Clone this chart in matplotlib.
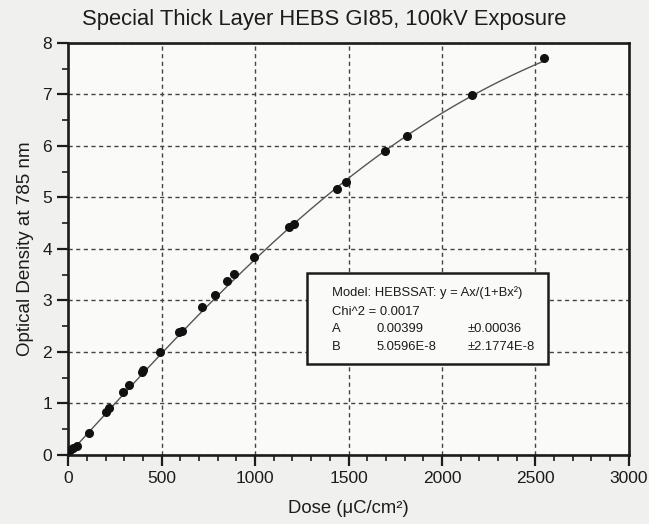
import numpy as np
import matplotlib
matplotlib.use("Agg")
import matplotlib.pyplot as plt
from matplotlib.ticker import MultipleLocator

plt.rcParams["font.family"] = ["Liberation Sans", "DejaVu Sans"]

# Measured points (dose, optical density)
dose = [10, 28, 50, 109, 201, 216, 296, 328, 394, 403, 492, 595, 608,
        718, 786, 848, 888, 995, 1182, 1207, 1441, 1489, 1695, 1813,
        2160, 2545]
od = [0.10, 0.13, 0.17, 0.43, 0.84, 0.91, 1.22, 1.35, 1.61, 1.64, 2.00,
      2.38, 2.41, 2.87, 3.11, 3.37, 3.51, 3.84, 4.43, 4.48, 5.17, 5.30,
      5.90, 6.19, 6.99, 7.70]

# Fit parameters from the box
fit_A = 0.00399
fit_B = 5.0596e-8
fit_labels = ["A", "B"]
fit_values = ["0.00399", "5.0596E-8"]
fit_errors = ["\u00b10.00036", "\u00b12.1774E-8"]

ink = "#1c1c1c"

fig = plt.figure(figsize=(6.49, 5.24), dpi=100, facecolor="#f0f0ee")
ax = fig.add_axes([0.105, 0.132, 0.864, 0.786])
ax.set_facecolor("#fafaf8")

# model curve y = Ax/(1+Bx^2)
xs = np.linspace(0, max(dose), 300)
ax.plot(xs, fit_A * xs / (1 + fit_B * xs ** 2), color="#555555", lw=1.0, zorder=2)
ax.plot(dose, od, "o", color="#111111", ms=5.5, zorder=3)

ax.set_xlim(0, 3000)
ax.set_ylim(0, 8)
ax.xaxis.set_major_locator(MultipleLocator(500))
ax.xaxis.set_minor_locator(MultipleLocator(100))
ax.yaxis.set_major_locator(MultipleLocator(1))
ax.yaxis.set_minor_locator(MultipleLocator(0.5))
ax.tick_params(which="major", direction="out", length=8, width=1.6,
               labelsize=12.5, colors=ink)
ax.tick_params(which="minor", direction="out", length=4, width=1.2,
               colors=ink)
ax.grid(True, which="major", color="#444444", ls=(0, (3, 2.5)), lw=1.0)
for s in ax.spines.values():
    s.set_linewidth(1.9)
    s.set_color(ink)

fig.text(0.5, 0.962, "Special Thick Layer HEBS GI85, 100kV Exposure",
         fontsize=15.8, color=ink, ha="center", va="center")
ax.set_xlabel("Dose (\u03bcC/cm\u00b2)", fontsize=13.3, color=ink, labelpad=10)
ax.set_ylabel("Optical Density at 785 nm", fontsize=13.5, color=ink, labelpad=6)

# fit result box
box = plt.Rectangle((1278, 1.77), 1289, 1.76, facecolor="#fafaf8",
                    edgecolor=ink, lw=1.8, zorder=4)
ax.add_patch(box)
txt = dict(fontsize=9.4, color=ink, zorder=5, va="center")
ax.text(1412, 3.15, "Model: HEBSSAT: y = Ax/(1+Bx\u00b2)", **txt)
ax.text(1412, 2.78, "Chi^2 = 0.0017", **txt)
for i, (lab, val, err) in enumerate(zip(fit_labels, fit_values, fit_errors)):
    yy = 2.45 - i * 0.35
    ax.text(1412, yy, lab, **txt)
    ax.text(1652, yy, val, **txt)
    ax.text(2139, yy, err, **txt)

fig.savefig("out.png", dpi=100, facecolor=fig.get_facecolor())
